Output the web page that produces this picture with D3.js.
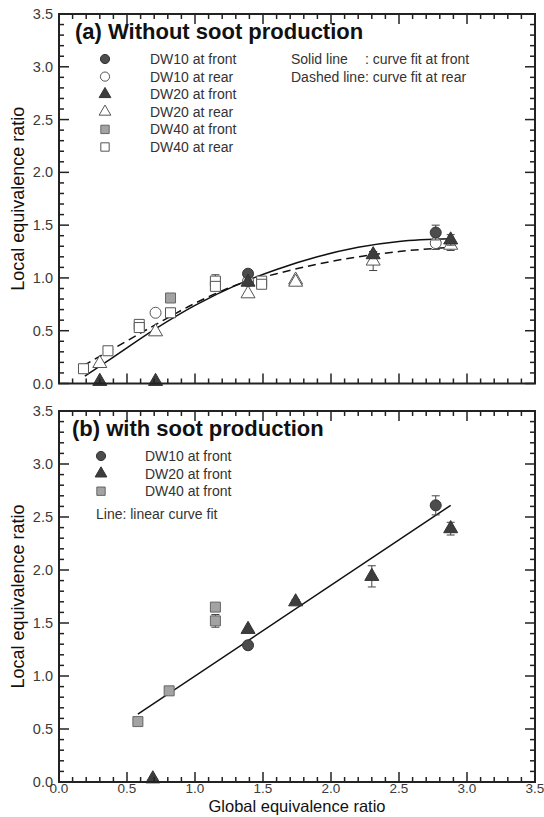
<!DOCTYPE html>
<html>
<head>
<meta charset="utf-8">
<script src="https://cdn.jsdelivr.net/npm/d3@7"></script>
<style>
  body { margin: 0; background: #fff; }
  text { font-family: "Liberation Sans", Arial, sans-serif; }
</style>
</head>
<body>
<script>
// panel (a): without soot production
var dw10FrontA = { x: [1.39, 2.77], y: [1.04, 1.43], err: [0, 0.07] };
var dw10RearA  = { x: [0.71, 1.39, 2.77], y: [0.67, 0.97, 1.33], err: [0, 0, 0.06] };
var dw20FrontA = { x: [0.30, 0.71, 1.39, 2.31, 2.88], y: [0.02, 0.02, 0.96, 1.22, 1.36], err: [0, 0, 0, 0.03, 0.05] };
var dw20RearA  = { x: [0.30, 0.71, 1.39, 1.74, 1.74, 2.31, 2.88], y: [0.19, 0.49, 0.85, 0.98, 0.96, 1.16, 1.31], err: [0, 0, 0, 0, 0, 0.09, 0.05] };
var dw40FrontA = { x: [0.82], y: [0.81], err: [0] };
var dw40RearA  = { x: [0.18, 0.36, 0.59, 0.59, 0.82, 1.15, 1.15, 1.49, 1.49], y: [0.14, 0.31, 0.56, 0.53, 0.67, 0.97, 0.92, 0.97, 0.94], err: [0, 0, 0, 0, 0, 0.06, 0, 0, 0] };
// curve fits
var fitFrontA = { x: [0.19, 0.4, 0.7, 1.0, 1.3, 1.6, 1.9, 2.2, 2.5, 2.88], y: [0.07, 0.25, 0.51, 0.74, 0.93, 1.08, 1.20, 1.29, 1.345, 1.37] };
var fitRearA  = { x: [0.18, 0.4, 0.7, 1.0, 1.3, 1.6, 1.9, 2.2, 2.5, 2.88], y: [0.17, 0.33, 0.55, 0.76, 0.93, 1.04, 1.13, 1.20, 1.25, 1.29] };

// panel (b): with soot production
var dw10FrontB = { x: [1.39, 2.77], y: [1.29, 2.61], err: [0, 0.09] };
var dw20FrontB = { x: [0.69, 1.39, 1.74, 2.30, 2.88], y: [0.03, 1.44, 1.70, 1.94, 2.39], err: [0, 0, 0.02, 0.1, 0.06] };
var dw40FrontB = { x: [0.58, 0.81, 1.15, 1.15], y: [0.57, 0.86, 1.65, 1.52], err: [0, 0, 0, 0.06] };
var fitB = { x: [0.58, 2.88], y: [0.64, 2.61] };

var majorTicks = [0, 0.5, 1.0, 1.5, 2.0, 2.5, 3.0, 3.5];

var w = 544, h = 817;
var svg = d3.select("body").append("svg").attr("width", w).attr("height", h);

var x = d3.scaleLinear().domain([0, 3.5]).range([59, 535]);

// marker styles
var styles = {
  filledCircle:   { type: d3.symbolCircle,   size: 95,  fill: "#4d4d4d", stroke: "#333" },
  openCircle:     { type: d3.symbolCircle,   size: 95,  fill: "#fff",    stroke: "#555" },
  filledTriangle: { type: d3.symbolTriangle, size: 85,  fill: "#3d3d3d", stroke: "#333" },
  openTriangle:   { type: d3.symbolTriangle, size: 85,  fill: "#fff",    stroke: "#555" },
  graySquare:     { type: d3.symbolSquare,   size: 100, fill: "#a3a3a3", stroke: "#666" },
  openSquare:     { type: d3.symbolSquare,   size: 100, fill: "#fff",    stroke: "#555" }
};

function toPoints(s) {
  return s.x.map((v, i) => ({ x: v, y: s.y[i], err: s.err ? s.err[i] : 0 }));
}

function drawPanel(top, bottom, opts) {
  var y = d3.scaleLinear().domain([0, 3.5]).range([bottom, top]);
  var g = svg.append("g");

  // fits
  opts.fits.forEach(f => {
    var line = d3.line().x(d => x(d.x)).y(d => y(d.y)).curve(d3.curveMonotoneX);
    g.append("path")
      .datum(toPoints(f.data))
      .attr("d", line)
      .attr("fill", "none")
      .attr("stroke", "#111")
      .attr("stroke-width", 1.5)
      .attr("stroke-dasharray", f.dash || null);
  });

  // series with error bars
  opts.series.forEach(s => {
    var st = styles[s.style];
    var pts = toPoints(s.data);
    var eb = g.append("g").selectAll("g").data(pts.filter(d => d.err > 0)).enter().append("g")
      .attr("stroke", "#444").attr("stroke-width", 1);
    eb.append("line").attr("x1", d => x(d.x)).attr("x2", d => x(d.x))
      .attr("y1", d => y(d.y - d.err)).attr("y2", d => y(d.y + d.err));
    eb.append("line").attr("x1", d => x(d.x) - 4).attr("x2", d => x(d.x) + 4)
      .attr("y1", d => y(d.y - d.err)).attr("y2", d => y(d.y - d.err));
    eb.append("line").attr("x1", d => x(d.x) - 4).attr("x2", d => x(d.x) + 4)
      .attr("y1", d => y(d.y + d.err)).attr("y2", d => y(d.y + d.err));

    g.append("g").selectAll("path").data(pts).enter().append("path")
      .attr("d", d3.symbol().type(st.type).size(st.size))
      .attr("transform", d => "translate(" + x(d.x) + "," + y(d.y) + ")")
      .attr("fill", st.fill)
      .attr("stroke", st.stroke)
      .attr("stroke-width", 1);
  });

  // inward ticks on all four sides, 0.1 minor / 0.5 major
  var minors = d3.range(0, 3.51, 0.1).map(v => +v.toFixed(1));
  var tick = (x1, y1, x2, y2) => g.append("line").attr("x1", x1).attr("y1", y1).attr("x2", x2).attr("y2", y2)
    .attr("stroke", "#222").attr("stroke-width", 1.5);
  minors.forEach(v => {
    var len = majorTicks.indexOf(v) >= 0 ? 10 : 5;
    tick(x(v), bottom, x(v), bottom - len);
    tick(x(v), top, x(v), top + len);
    tick(x.range()[0], y(v), x.range()[0] + len, y(v));
    tick(x.range()[1], y(v), x.range()[1] - len, y(v));
  });

  g.append("rect")
    .attr("x", x.range()[0]).attr("y", top)
    .attr("width", x.range()[1] - x.range()[0]).attr("height", bottom - top)
    .attr("fill", "none").attr("stroke", "#222").attr("stroke-width", 2);

  // y tick labels
  g.selectAll(".ylab").data(majorTicks).enter().append("text")
    .attr("x", x.range()[0] - 6).attr("y", d => y(d) + 5)
    .attr("text-anchor", "end").attr("font-size", 14.5).attr("fill", "#3a3a3a")
    .text(d => d.toFixed(1));

  if (opts.xLabels) {
    g.selectAll(".xlab").data(majorTicks).enter().append("text")
      .attr("x", d => x(d)).attr("y", bottom + 11)
      .attr("text-anchor", "middle").attr("font-size", 13.5).attr("fill", "#3a3a3a")
      .text(d => d.toFixed(1));
  }

  // y title
  g.append("text")
    .attr("transform", "translate(24," + ((top + bottom) / 2) + ") rotate(-90)")
    .attr("text-anchor", "middle").attr("font-size", 18).attr("fill", "#111")
    .text("Local equivalence ratio");

  // panel title
  g.append("text").attr("x", opts.titleX).attr("y", top + 25)
    .attr("font-size", 22).attr("font-weight", "bold").attr("fill", "#111")
    .text(opts.title);

  // legend
  opts.legend.forEach((s, i) => {
    var st = styles[s.style];
    var ly = top + 45 + i * 17.6;
    g.append("path")
      .attr("d", d3.symbol().type(st.type).size(st.size * 0.7))
      .attr("transform", "translate(" + opts.legendX + "," + ly + ")")
      .attr("fill", st.fill).attr("stroke", st.stroke);
    g.append("text").attr("x", opts.legendTextX).attr("y", ly + 5)
      .attr("font-size", 14).attr("fill", "#333").text(s.name);
  });

  return { g: g, y: y };
}

var a = drawPanel(14, 383.5, {
  title: "(a) Without soot production", titleX: 75,
  legendX: 105, legendTextX: 150,
  series: [
    { data: dw20RearA, style: "openTriangle" },
    { data: dw40RearA, style: "openSquare" },
    { data: dw10RearA, style: "openCircle" },
    { data: dw40FrontA, style: "graySquare" },
    { data: dw10FrontA, style: "filledCircle" },
    { data: dw20FrontA, style: "filledTriangle" }
  ],
  fits: [ { data: fitFrontA }, { data: fitRearA, dash: "8,5" } ],
  legend: [
    { name: "DW10 at front", style: "filledCircle" },
    { name: "DW10 at rear", style: "openCircle" },
    { name: "DW20 at front", style: "filledTriangle" },
    { name: "DW20 at rear", style: "openTriangle" },
    { name: "DW40 at front", style: "graySquare" },
    { name: "DW40 at rear", style: "openSquare" }
  ]
});

// fit notes, colons aligned
var dashedNote = a.g.append("text").attr("x", 291).attr("y", 14 + 45 + 17.6 + 5)
  .attr("font-size", 14).attr("fill", "#333").text("Dashed line");
var colonX = 291 + dashedNote.node().getComputedTextLength();
a.g.append("text").attr("x", colonX).attr("y", 14 + 45 + 17.6 + 5)
  .attr("font-size", 14).attr("fill", "#333").text(": curve fit at rear");
a.g.append("text").attr("x", 291).attr("y", 14 + 45 + 5)
  .attr("font-size", 14).attr("fill", "#333").text("Solid line");
a.g.append("text").attr("x", colonX).attr("y", 14 + 45 + 5)
  .attr("font-size", 14).attr("fill", "#333").text(": curve fit at front");

var b = drawPanel(411, 782, {
  title: "(b) with soot production", titleX: 72, xLabels: true,
  legendX: 101, legendTextX: 145,
  series: [
    { data: dw40FrontB, style: "graySquare" },
    { data: dw10FrontB, style: "filledCircle" },
    { data: dw20FrontB, style: "filledTriangle" }
  ],
  fits: [ { data: fitB } ],
  legend: [
    { name: "DW10 at front", style: "filledCircle" },
    { name: "DW20 at front", style: "filledTriangle" },
    { name: "DW40 at front", style: "graySquare" }
  ]
});

b.g.append("text").attr("x", 96).attr("y", 411 + 45 + 3 * 17.6 + 10)
  .attr("font-size", 14).attr("fill", "#333").text("Line: linear curve fit");

svg.append("text").attr("x", x(1.75)).attr("y", 812)
  .attr("text-anchor", "middle").attr("font-size", 16.5).attr("fill", "#111")
  .text("Global equivalence ratio");
</script>
</body>
</html>
